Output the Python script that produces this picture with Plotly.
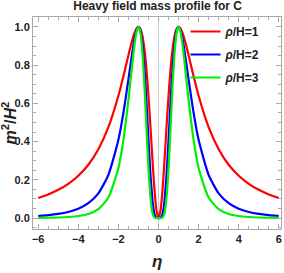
import plotly.graph_objects as go

eta_pos = [0.0, 0.1, 0.15, 0.2, 0.25, 0.3, 0.4, 0.5, 0.6, 0.65, 0.7, 0.75, 0.8, 0.85, 0.9, 0.95,
           1.0, 1.1, 1.2, 1.25, 1.4, 1.5, 1.75, 2.0, 2.5, 3.0, 3.5, 4.0, 4.5, 5.0, 5.5, 6.0]
rho1_pos = [0.0, 0.0392, 0.0861, 0.1479, 0.2215, 0.3030, 0.4756, 0.6400, 0.7785, 0.8352, 0.8829, 0.9216,
            0.9518, 0.9741, 0.9890, 0.9974, 1.0, 0.9910, 0.9675, 0.9518, 0.8948, 0.8521, 0.7423, 0.6400,
            0.4756, 0.3600, 0.2791, 0.2215, 0.1794, 0.1479, 0.1239, 0.1052]
rho2_pos = [0.0, 0.0015, 0.0074, 0.0219, 0.0490, 0.0918, 0.2262, 0.4096, 0.6061, 0.6976, 0.7794, 0.8494,
            0.9059, 0.9488, 0.9781, 0.9948, 1.0, 0.9820, 0.9360, 0.9059, 0.8007, 0.7260, 0.5509, 0.4096,
            0.2262, 0.1296, 0.0779, 0.0490, 0.0322, 0.0219, 0.0154, 0.0111]
rho3_pos = [0.0, 0.0001, 0.0006, 0.0032, 0.0109, 0.0278, 0.1076, 0.2621, 0.4719, 0.5826, 0.6881, 0.7828,
            0.8623, 0.9242, 0.9673, 0.9921, 1.0, 0.9732, 0.9056, 0.8623, 0.7165, 0.6186, 0.4089, 0.2621,
            0.1076, 0.0467, 0.0217, 0.0109, 0.0058, 0.0032, 0.0019, 0.0012]
x_ticks = [-6, -4, -2, 0, 2, 4, 6]
x_ticklabels = ["−6", "−4", "−2", "0", "2", "4", "6"]
y_ticks = [0, 0.2, 0.4, 0.6, 0.8, 1.0]
y_ticklabels = ["0.0", "0.2", "0.4", "0.6", "0.8", "1.0"]

eta = [-e for e in eta_pos[:0:-1]] + eta_pos
def mirror(v):
    return v[:0:-1] + v

series = [
    ("<i>ρ</i>/H=1", mirror(rho1_pos), "#ff0000"),
    ("<i>ρ</i>/H=2", mirror(rho2_pos), "#0000ff"),
    ("<i>ρ</i>/H=3", mirror(rho3_pos), "#00ee00"),
]

font = "Liberation Sans Narrow, Arial Narrow, Liberation Sans, Arial"
dark = "#222222"
fig = go.Figure()
for i, (name, y, c) in enumerate(series):
    fig.add_trace(go.Scatter(x=eta, y=y, mode="lines", name=name, legendgroup=f"g{i}",
                             line=dict(color=c, width=2.2, shape="spline", smoothing=0.6)))

axis_common = dict(showgrid=False, zeroline=False, showline=True, linecolor="#aaaaaa", linewidth=1,
                   mirror="ticks", ticks="inside", ticklen=5, tickcolor="#aaaaaa", automargin=False,
                   tickfont=dict(family=font, size=11, color=dark, weight="bold"))
fig.update_xaxes(range=[-6.26, 6.11], tickvals=x_ticks, ticktext=x_ticklabels,
                 minor=dict(dtick=0.5, ticks="inside", ticklen=3, tickcolor="#aaaaaa"),
                 **axis_common)
fig.update_yaxes(range=[-0.057, 1.052], tickvals=y_ticks, ticktext=y_ticklabels,
                 minor=dict(dtick=0.05, ticks="inside", ticklen=3, tickcolor="#aaaaaa"),
                 **axis_common)

fig.add_shape(type="line", xref="x", yref="paper", x0=0, x1=0, y0=0, y1=1,
              line=dict(color="#cccccc", width=1), layer="below")

fig.add_annotation(text="<i>η</i>", xref="paper", yref="paper", x=0.5, y=-0.155, xanchor="center",
                   yanchor="middle", showarrow=False,
                   font=dict(family=font, size=17, color=dark, weight="bold"))
fig.add_annotation(text="<i>m</i><sup>2</sup>/<i>H</i><sup>2</sup>", xref="paper", yref="paper",
                   x=-0.095, y=0.5, xanchor="center", yanchor="middle", textangle=-90, showarrow=False,
                   font=dict(family=font, size=16, color=dark, weight="bold"))

fig.update_layout(
    width=284, height=273,
    margin=dict(l=33, r=3, t=17, b=44),
    plot_bgcolor="white", paper_bgcolor="white",
    title=dict(text="<b>Heavy field mass profile for C</b>", x=0.555, xanchor="center", y=0.995, yanchor="top",
               font=dict(family=font, size=12, color=dark)),
    legend=dict(x=0.615, y=1.0, xanchor="left", yanchor="top", bgcolor="rgba(0,0,0,0)",
                font=dict(family=font, size=12, color=dark, weight="bold"),
                itemwidth=30, tracegroupgap=4),
    showlegend=True,
)

fig.write_html("out.html", config={"displayModeBar": False},
               post_script="document.body.style.margin='0';document.body.style.overflow='hidden';")
